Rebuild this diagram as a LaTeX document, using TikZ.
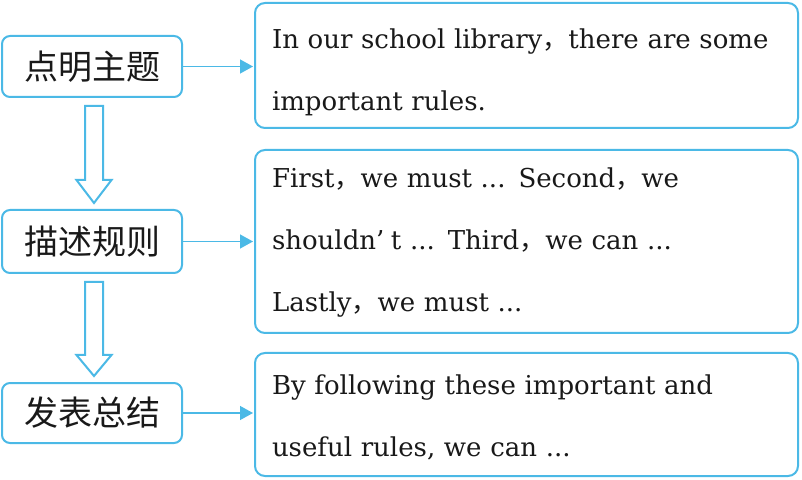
\documentclass[tikz,border=0pt]{standalone}
\usepackage{fontspec}
\setmainfont{DejaVu Serif}
\newfontfamily\cjk{Noto Sans CJK SC}
\usetikzlibrary{positioning}
\usetikzlibrary{arrows.meta}
\usetikzlibrary{calc}
\definecolor{boxblue}{RGB}{75,185,230}
\newcommand{\zcomma}{{\cjk ，}}
\newcommand{\upstrut}[1]{\rule{0pt}{#1pt}}
\newcommand{\dnstrut}{\rule[-8pt]{0pt}{8pt}}
\tikzset{
    stagebox/.style = {rectangle, rounded corners=8pt, line width=2pt, draw=boxblue, align=center, minimum width=180pt, inner sep=0pt, font=\cjk\fontsize{34}{40}\selectfont, text=black!90},
    textbox/.style = {rectangle, rounded corners=10pt, line width=2pt, draw=boxblue, align=left, minimum width=543pt, text width=509pt, inner xsep=17pt, inner ysep=0pt, font=\fontsize{26}{62}\selectfont, text=black!90},
    edgea/.style = {-{Triangle[length=13pt,width=14pt]}, line width=1.3pt, boxblue, shorten >=1pt},
    hollowarrow/.style = {line width=2pt, draw=boxblue, fill=white, line join=miter},
}

\begin{document}
\begin{tikzpicture}[x=1pt,y=1pt]
\node[stagebox, minimum height=61pt] at (92, 412.5) (t1) {点明主题};
\node[stagebox, minimum height=63pt] at (92, 237.5) (t2) {描述规则};
\node[stagebox, minimum height=60pt] at (92, 66.0) (t3) {发表总结};
%
\node[textbox, minimum height=125pt] at (526.5, 413.5) (c1) {\upstrut{36}In our school library\zcomma there are some\\important rules.\dnstrut};
\node[textbox, minimum height=183pt] at (526.5, 237.5) (c2) {\upstrut{24}First\zcomma we must ... Second\zcomma we\\shouldn’\hspace{.25em}t ... Third\zcomma we can ...\\Lastly\zcomma we must ...\dnstrut};
\node[textbox, minimum height=123pt] at (526.5, 64.5) (c3) {\upstrut{30}By following these important and\\useful rules, we can ...\dnstrut};
%
\draw[edgea] (t1.east) -- (t1.east -| c1.west);
\draw[edgea] (t2.east) -- (t2.east -| c2.west);
\draw[edgea] (t3.east) -- (t3.east -| c3.west);
%
\foreach \a/\b/\h in {t1/t2/23, t2/t3/21} {
    \draw[hollowarrow] ($(\a.south)+(-7,-8)$) -- ($(\b.north)+(-7,6+\h)$)
        -- ($(\b.north)+(-15.5,6+\h)$) -- ($(\b.north)+(2,6)$)
        -- ($(\b.north)+(19.5,6+\h)$) -- ($(\b.north)+(11,6+\h)$)
        -- ($(\a.south)+(11,-8)$) -- cycle;
}

\path[use as bounding box] (0,0) rectangle (802,479);
\end{tikzpicture}
\end{document}
